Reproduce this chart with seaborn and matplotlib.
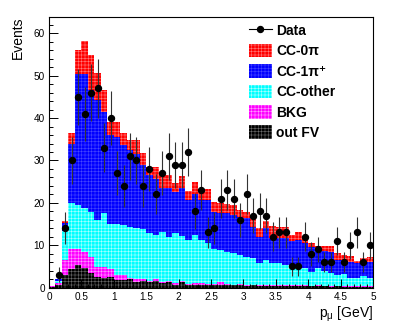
import numpy as np
import pandas as pd
import matplotlib
matplotlib.use("Agg")
import matplotlib.pyplot as plt
from matplotlib.patches import Rectangle
from matplotlib.lines import Line2D
from matplotlib.ticker import MultipleLocator, FormatStrFormatter
import seaborn as sns

# bin edges of the p_mu histogram (GeV), 0.1 GeV bins
edges = np.linspace(0.0, 5.0, 51)

# stacked MC components, events per bin
out_fv = [0.2, 0.6, 3.0, 4.3, 5.3, 4.6, 3.5, 2.5, 2.2, 2.5,
          1.8, 1.8, 2.0, 1.4, 1.6, 1.2, 1.6, 1.0, 1.3, 0.7,
          1.2, 0.6, 0.7, 0.6, 0.5, 0.5, 0.7, 0.5, 0.5, 0.6,
          0.4, 0.5, 0.3, 0.4, 0.3, 0.4, 0.3, 0.3, 0.4, 0.3,
          0.3, 0.3, 0.3, 0.2, 0.3, 0.2, 0.2, 0.2, 0.2, 0.2]
bkg = [0.2, 0.4, 3.5, 4.9, 3.9, 3.8, 3.7, 2.3, 2.6, 1.8,
       1.1, 1.1, 0.2, 0.6, 0.3, 0.3, 0.3, 0.3, 0.3, 0.3,
       0.3, 0.3, 0.3, 0.4, 0.4, 0.3, 0.5, 0.3, 0.2, 0.3,
       0.3, 0.2, 0.3, 0.2, 0.2, 0.2, 0.2, 0.2, 0.2, 0.2,
       0.1, 0.2, 0.1, 0.2, 0.1, 0.2, 0.2, 0.1, 0.1, 0.1]
cc_other = [0.0, 0.6, 6.9, 10.7, 10.3, 10.3, 10.7, 11.1, 12.7, 10.8,
            12.2, 11.9, 12.1, 12.0, 11.8, 11.3, 10.4, 11.9, 10.4, 11.9,
            10.6, 10.3, 11.4, 10.2, 9.5, 8.2, 7.6, 7.7, 7.4, 6.8,
            6.6, 6.2, 5.1, 5.9, 5.4, 5.1, 4.8, 4.4, 4.8, 4.0,
            3.3, 4.0, 3.5, 3.1, 2.5, 2.7, 1.8, 1.9, 2.5, 1.9]
cc_1pi = [0.0, 0.3, 1.8, 13.9, 31.0, 31.8, 28.8, 28.3, 24.0, 20.9,
          20.4, 18.8, 18.1, 17.5, 15.3, 13.7, 13.4, 10.4, 11.6, 9.7,
          11.5, 9.4, 9.7, 9.4, 10.2, 8.9, 8.8, 9.0, 9.0, 9.0,
          9.0, 7.4, 6.3, 7.5, 5.7, 6.1, 6.3, 6.1, 5.8, 5.9,
          5.9, 4.3, 4.8, 4.9, 3.6, 3.3, 3.9, 3.5, 3.0, 3.9]
cc_0pi = [0.0, 0.1, 0.6, 2.6, 5.7, 7.7, 8.1, 6.5, 5.2, 3.1,
          3.6, 2.8, 2.5, 3.4, 2.8, 2.0, 2.8, 2.9, 2.9, 2.0,
          2.7, 2.2, 2.9, 2.6, 2.6, 2.3, 2.4, 2.2, 2.4, 1.7,
          1.6, 2.4, 2.0, 1.8, 2.9, 2.5, 2.7, 1.4, 1.8, 1.4,
          1.0, 1.1, 1.2, 1.5, 1.6, 1.3, 1.3, 0.6, 1.1, 1.0]

# observed data counts per bin
data_counts = [0, 3, 14, 30, 45, 41, 46, 47, 33, 40,
               27, 24, 31, 30, 24, 28, 22, 27, 31, 29,
               29, 32, 18, 23, 13, 14, 21, 23, 21, 16,
               22, 17, 18, 17, 12, 13, 13, 5, 5, 12,
               8, 9, 6, 6, 11, 6, 10, 13, 6, 10]

labels = ["CC-0\u03c0", "CC-1\u03c0\u207a", "CC-other", "BKG", "out FV"]
colors = ["#ff0000", "#0000ff", "#00ffff", "#ff00ff", "#000000"]
hatch_colors = ["#ff7a7a", "#4646ff", "#b0ffff", "#ff9cff", "#6a6a6a"]

plt.rcParams["font.family"] = ["Liberation Sans", "DejaVu Sans"]
plt.rcParams["mathtext.fontset"] = "custom"
plt.rcParams["mathtext.rm"] = "Liberation Sans"
plt.rcParams["mathtext.it"] = "Liberation Sans"
plt.rcParams["hatch.linewidth"] = 0.4

centers = edges[:-1] + np.diff(edges) / 2
series = [cc_0pi, cc_1pi, cc_other, bkg, out_fv]
df = pd.concat(
    [pd.DataFrame({"p": centers, "n": vals, "comp": lab}) for lab, vals in zip(labels, series)],
    ignore_index=True,
)

fig = plt.figure(figsize=(4.15, 3.29), dpi=100)
ax = fig.add_axes([49 / 415, 1 - 287.5 / 329, 324 / 415, 271 / 329])

sns.histplot(data=df, x="p", weights="n", hue="comp", hue_order=labels,
             palette=dict(zip(labels, colors)), binwidth=0.1, binrange=(0, 5),
             multiple="stack", alpha=1, linewidth=0, legend=False, ax=ax)

# ROOT-like fill pattern: lighter grid on each component
col2hatch = dict(zip([matplotlib.colors.to_hex(c) for c in colors], hatch_colors))
for patch in ax.patches:
    fc = matplotlib.colors.to_hex(patch.get_facecolor())
    if fc in col2hatch:
        patch.set_hatch("+++++")
        patch.set_edgecolor(col2hatch[fc])
        patch.set_linewidth(0)

d = np.array(data_counts, dtype=float)
m = d > 0
ax.errorbar(centers[m], d[m], yerr=np.sqrt(d[m]), fmt="o", color="black",
            ms=4.3, elinewidth=0.8, ecolor="#333333", capsize=0, zorder=5)

ax.set_xlim(0, 5)
ax.set_ylim(0, 64)
ax.xaxis.set_major_locator(MultipleLocator(0.5))
ax.xaxis.set_minor_locator(MultipleLocator(0.1))
ax.yaxis.set_major_locator(MultipleLocator(10))
ax.yaxis.set_minor_locator(MultipleLocator(2))
ax.xaxis.set_major_formatter(FormatStrFormatter("%g"))
ax.tick_params(which="both", direction="in", top=False, right=False,
               labelsize=7.2, width=0.7, pad=3)
ax.tick_params(which="major", length=6.5)
ax.tick_params(which="minor", length=3.2)
for s in ax.spines.values():
    s.set_linewidth(0.8)

ax.set_ylabel("Events", fontsize=10, loc="top")
ax.yaxis.set_label_coords(-0.075, 1.0)
ax.set_xlabel("p$_{\\mathrm{\u03bc}}$ [GeV]", fontsize=10, loc="right")
ax.xaxis.set_label_coords(1.0, -0.062)

handles = [Line2D([], [], color="black", marker="o", ms=4.3, lw=0.8)]
for c, hc in zip(colors, hatch_colors):
    handles.append(Rectangle((0, 0), 1, 1, facecolor=c, edgecolor=hc,
                             hatch="+++++", linewidth=0))
ax.legend(handles, ["Data"] + labels, loc="upper left",
          bbox_to_anchor=(0.617, 0.975), frameon=False,
          prop={"weight": "bold", "size": 10},
          handlelength=1.65, handleheight=1.15, handletextpad=0.3,
          labelspacing=0.42, borderpad=0, borderaxespad=0)

fig.savefig("out.png", dpi=100)
